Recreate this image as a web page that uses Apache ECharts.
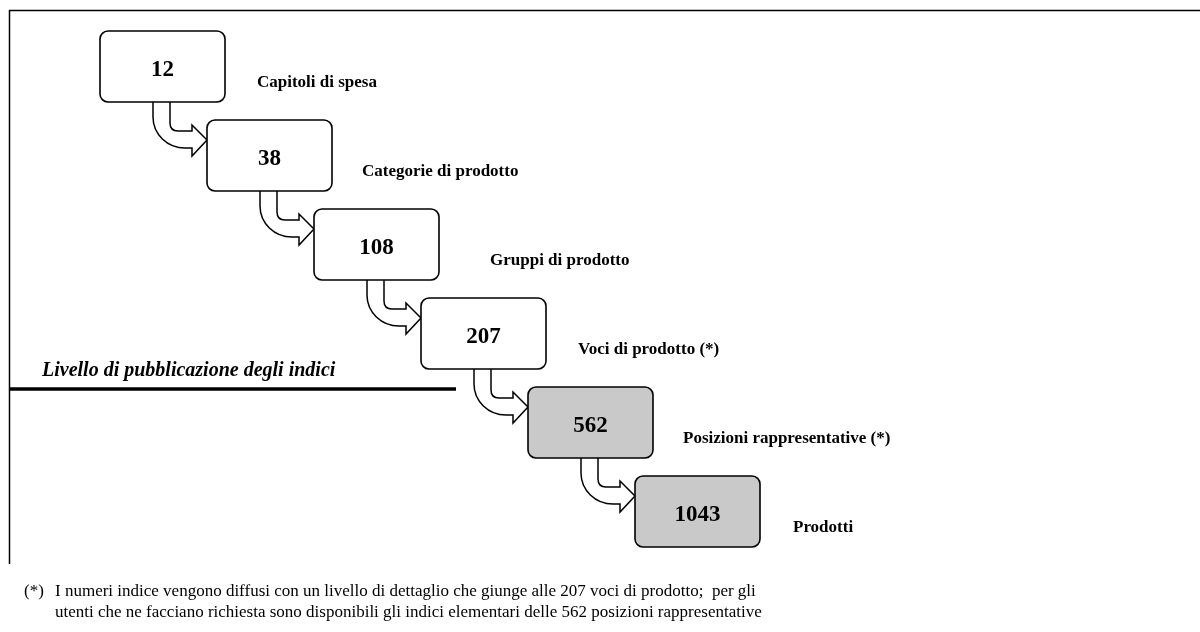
<!DOCTYPE html>
<html>
<head>
<meta charset="utf-8">
<script src="https://cdn.jsdelivr.net/npm/echarts@6/dist/echarts.min.js"></script>
<style>
  html, body { margin: 0; padding: 0; background: #fff; }
  #chart { width: 1200px; height: 632px; }
</style>
</head>
<body>
<div id="chart"></div>
<script>
// livelli della classificazione e numero di elementi per livello
const levels = ['Capitoli di spesa', 'Categorie di prodotto', 'Gruppi di prodotto',
    'Voci di prodotto (*)', 'Posizioni rappresentative (*)', 'Prodotti'];
const counts = [12, 38, 108, 207, 562, 1043];
const published = [true, true, true, true, false, false];
const publicationNote = 'Livello di pubblicazione degli indici';
const footnoteMark = '(*)';
const footnoteLines = [
    'I numeri indice vengono diffusi con un livello di dettaglio che giunge alle 207 voci di prodotto;  per gli',
    'utenti che ne facciano richiesta sono disponibili gli indici elementari delle 562 posizioni rappresentative'
];

// distanza dell'etichetta dal bordo destro del riquadro
const labelGap = [32, 30, 51, 32, 30, 33];

const BOX_W = 125, BOX_H = 71;
const SERIF = '"Liberation Serif", "DejaVu Serif", serif';

let chart = echarts.init(document.getElementById('chart'));

function renderArrow(params, api) {
    const i = api.value(0);
    const p = api.coord([i, i]);
    const X = p[0], Y = p[1];
    const k = 0.552;
    const d = [
        'M', X + 70, Y + BOX_H,
        'L', X + 70, Y + 92,
        'Q', X + 70, Y + 100, X + 78, Y + 100,
        'L', X + 92, Y + 100,
        'L', X + 92, Y + 94,
        'L', X + 107, Y + 109,
        'L', X + 92, Y + 125,
        'L', X + 92, Y + 117,
        'L', X + 85, Y + 117,
        'C', X + 85 - 32 * k, Y + 117, X + 53, Y + 86 + 31 * k, X + 53, Y + 86,
        'L', X + 53, Y + BOX_H
    ].join(' ');
    return {
        type: 'path',
        shape: { pathData: d },
        style: { fill: '#fff', stroke: '#000', lineWidth: 1.5 }
    };
}

function renderBox(params, api) {
    const i = api.value(0);
    const p = api.coord([i, i]);
    const x = p[0], y = p[1];
    return {
        type: 'group',
        children: [{
            type: 'rect',
            shape: { x: x, y: y, width: BOX_W, height: BOX_H, r: 8 },
            style: { fill: published[i] ? '#fff' : '#c9c9c9', stroke: '#000', lineWidth: 1.6 }
        }, {
            type: 'text',
            style: {
                text: String(api.value(2)), x: x + BOX_W / 2, y: y + BOX_H / 2 + 4,
                align: 'center', verticalAlign: 'middle',
                font: 'bold 23px ' + SERIF, fill: '#000'
            }
        }, {
            type: 'text',
            style: {
                text: levels[i], x: x + BOX_W + labelGap[i], y: y + 52,
                align: 'left', verticalAlign: 'middle',
                font: 'bold 17px ' + SERIF, fill: '#000'
            }
        }]
    };
}

const boxData = counts.map((c, i) => [i, i, c]);
const arrowData = counts.slice(0, -1).map((c, i) => [i, i]);

let option = {
    animation: false,
    backgroundColor: '#fff',
    grid: { left: 100, top: 31, right: 30, bottom: 67 },
    xAxis: { type: 'value', min: 0, max: 10, show: false },
    yAxis: { type: 'value', min: 0, max: 6, inverse: true, show: false },
    graphic: [
        { type: 'line', shape: { x1: 9, y1: 10.5, x2: 1200, y2: 10.5 }, style: { stroke: '#000', lineWidth: 1.5 } },
        { type: 'line', shape: { x1: 9.5, y1: 10, x2: 9.5, y2: 564 }, style: { stroke: '#000', lineWidth: 1.5 } },
        { type: 'line', shape: { x1: 9, y1: 389, x2: 456, y2: 389 }, style: { stroke: '#000', lineWidth: 3.5 } },
        {
            type: 'text', left: 42, top: 361,
            style: { text: publicationNote, font: 'italic bold 20px ' + SERIF, fill: '#000' }
        },
        {
            type: 'text', left: 24, top: 583,
            style: { text: footnoteMark, font: '17px ' + SERIF, fill: '#000' }
        },
        {
            type: 'text', left: 55, top: 583,
            style: { text: footnoteLines[0], font: '17px ' + SERIF, fill: '#000' }
        },
        {
            type: 'text', left: 55, top: 604,
            style: { text: footnoteLines[1], font: '17px ' + SERIF, fill: '#000' }
        }
    ],
    series: [{
        type: 'custom',
        renderItem: renderArrow,
        data: arrowData,
        silent: true
    }, {
        type: 'custom',
        renderItem: renderBox,
        data: boxData,
        silent: true
    }]
};

chart.setOption(option);
</script>
</body>
</html>
